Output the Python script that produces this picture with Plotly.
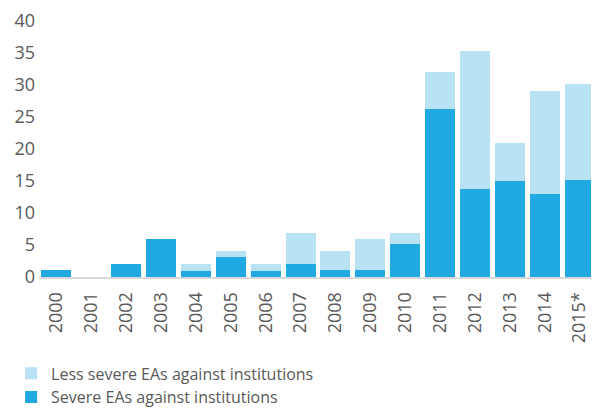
import plotly.graph_objects as go

years = ["2000", "2001", "2002", "2003", "2004", "2005", "2006", "2007",
         "2008", "2009", "2010", "2011", "2012", "2013", "2014", "2015*"]
severe = [1.1, 0, 2, 6, 1, 3.1, 1, 2, 1.1, 1.1, 5.1, 26.2, 13.8, 15.0, 13.0, 15.2]
less_severe = [0, 0, 0, 0, 1, 0.9, 1, 4.8, 2.9, 4.9, 1.7, 5.9, 21.5, 5.9, 16.1, 15.0]
y_ticks = [0, 5, 10, 15, 20, 25, 30, 35, 40]

fig = go.Figure()
fig.add_trace(go.Bar(x=years, y=severe, name="Severe EAs against institutions",
                     marker=dict(color="#21A9E1", line=dict(width=0))))
fig.add_trace(go.Bar(x=years, y=less_severe, name="Less severe EAs against institutions",
                     marker=dict(color="#B9E2F4", line=dict(width=0))))

font = "Open Sans, Noto Sans, sans-serif"
fig.update_layout(
    barmode="stack",
    bargap=0.14,
    width=591, height=402,
    margin=dict(l=31, r=2, t=13, b=133, autoexpand=False),
    paper_bgcolor="white", plot_bgcolor="white",
    font=dict(family=font, size=17, color="#595959"),
    showlegend=True,
    legend=dict(orientation="v", traceorder="reversed", x=-0.05, xanchor="left",
                y=-0.31, yanchor="top", font=dict(size=16, color="#595959"),
                itemwidth=30, tracegroupgap=0, bgcolor="rgba(0,0,0,0)"),
    xaxis=dict(tickangle=-90, showline=True, linecolor="#D9D9D9", linewidth=2,
               ticks="", showgrid=False, tickfont=dict(size=18), automargin=False,
               ticklabelstandoff=6),
    yaxis=dict(range=[0, 40.01], tickmode="array", tickvals=y_ticks,
               ticktext=[str(v) for v in y_ticks], showgrid=False, zeroline=False,
               showline=False, ticks="", tickfont=dict(size=18), automargin=False,
               ticklabelstandoff=3, ticklabeloverflow="allow"),
)
fig.write_html("out.html")
